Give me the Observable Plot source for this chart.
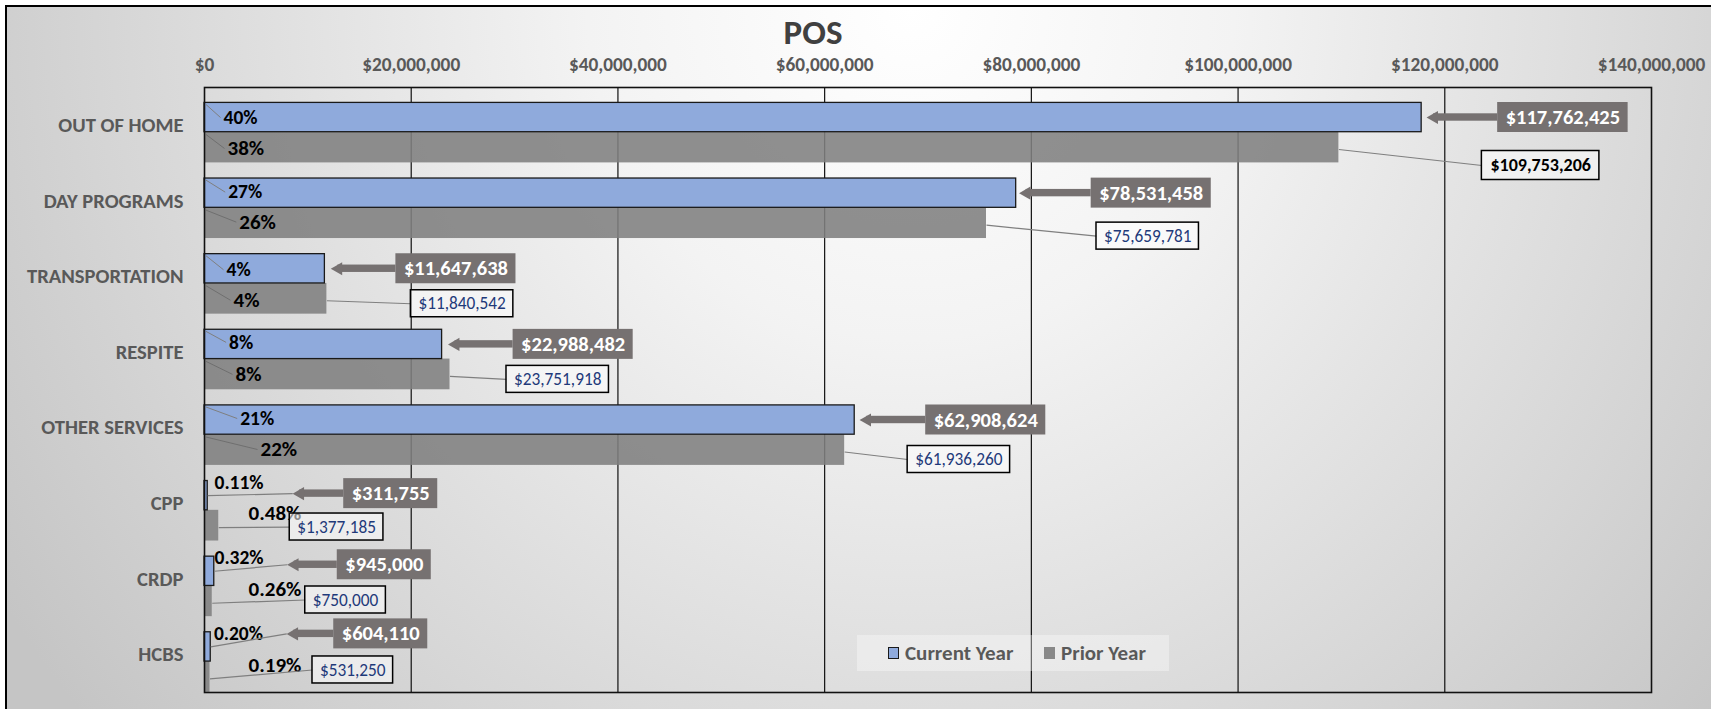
<!DOCTYPE html>
<html><head><meta charset="utf-8">
<script src="https://cdn.jsdelivr.net/npm/d3@7"></script>
<script src="https://cdn.jsdelivr.net/npm/@observablehq/plot@0.6"></script>
<style>
html,body{margin:0;padding:0;background:#fff;}
body{width:1711px;height:709px;overflow:hidden;position:relative;}
#bg{position:absolute;left:5px;top:5px;width:1740px;height:740px;border-top:2px solid #000;border-left:2px solid #000;box-sizing:border-box;
background: radial-gradient(ellipse 62% 150% at 52% 0%, #ffffff 0%, #f3f3f3 30%, #dcdcdc 65%, #c5c5c5 100%);}
#chart{position:absolute;left:0;top:0;}
#title{position:absolute;left:713px;width:200px;top:12px;text-align:center;font-weight:bold;color:#404040;line-height:40px;}
#legend{position:absolute;left:857px;top:635px;width:312px;height:36px;background:rgba(255,255,255,0.35);}
#legend .sw{position:absolute;top:12px;width:11px;height:12px;box-sizing:border-box;}
#legend .lb{position:absolute;top:0;line-height:36px;font-weight:bold;color:#595959;white-space:nowrap;}
</style></head>
<body>
<div id="bg"></div>
<div id="chart"></div>
<div id="title"></div>
<div id="legend"></div>
<script>
// ---------- data ----------
const categories = ["OUT OF HOME", "DAY PROGRAMS", "TRANSPORTATION", "RESPITE", "OTHER SERVICES", "CPP", "CRDP", "HCBS"];
const currentYear = [117762425, 78531458, 11647638, 22988482, 62908624, 311755, 945000, 604110];
const priorYear   = [109753206, 75659781, 11840542, 23751918, 61936260, 1377185, 750000, 531250];
const currentShare = ["40%", "27%", "4%", "8%", "21%", "0.11%", "0.32%", "0.20%"];
const priorShare   = ["38%", "26%", "4%", "8%", "22%", "0.48%", "0.26%", "0.19%"];
const xTicks = [0, 20000000, 40000000, 60000000, 80000000, 100000000, 120000000, 140000000];
const seriesNames = ["Current Year", "Prior Year"];
const chartTitle = "POS";

// ---------- label layout (pixel offsets, as placed in the original) ----------
const curTipDx  = [5, 3, 6, 6, 5, 85, 73, 76];          // arrow tip from bar end
const curBoxDx  = [76, 75, 71, 71, 71, 136, 123, 123];  // value box left from bar end
const curBoxCy  = [30, 30, 30, 30, 30, 28, 23.5, 17];   // box centre from band top
const priBoxDx  = [143, 110, 84, 56.5, 63, 71, 93, 102.5];
const priBoxCy  = [78, 73, 65, 65, 69.5, 61.4, 58.75, 53.1];
const curPctDx  = [19, 23.7, 22, 24.6, 35.7, 10, 10, 9.4];
const curPctCy  = [30, 29, 31, 28, 28.5, 17, 16.25, 16.6];
const priPctDx  = [23, 34.8, 29, 31, 56, 44, 44, 44];
const priPctCy  = [61, 59, 61.5, 60, 59.5, 48, 48, 48.6];
const priEmph   = [true, false, false, false, false, false, false, false];

// ---------- font ----------
const FF = `Carlito, Calibri, Lato, "Liberation Sans", sans-serif`;
const ctx = document.createElement("canvas").getContext("2d");
function textW(t, size, weight) { ctx.font = `${weight} ${size}px ${FF}`; return ctx.measureText(t).width; }

// ---------- geometry ----------
const W = 1711, H = 709, mL = 204, mR = 60, mT = 87, mB = 17;
const U = (H - mT - mB) / categories.length;
const xs = Plot.scale({x: {domain: [0, 140000000], range: [mL, W - mR]}});
const px = v => xs.apply(v), val = p => xs.invert(p);
const fmt = d3.format("$,.0f");

const rows = categories.map((cat, i) => ({i, cat, cur: currentYear[i], pri: priorYear[i], curPct: currentShare[i], priPct: priorShare[i]}));
const big = rows.filter(d => d.i < 5);

const curSize = 20.5, priSize = 17.3, priEmphSize = 18, pctCur = 19.5, pctPri = 21;
const cur = rows.map(d => {
  const e = px(d.cur), tip = e + curTipDx[d.i], bl = e + curBoxDx[d.i];
  const w = textW(fmt(d.cur), curSize, "bold") + 16;
  return {...d, tip, bl, br: bl + w, cy: curBoxCy[d.i]};
});
const pri = rows.map(d => {
  const e = px(d.pri), bl = e + priBoxDx[d.i];
  const w = priEmph[d.i] ? textW(fmt(d.pri), priEmphSize, "bold") + 17 : textW(fmt(d.pri), priSize, "normal") + 15;
  return {...d, bl, br: bl + w, cy: priBoxCy[d.i], h: priEmph[d.i] ? 29 : 27};
});

const grey = "#767171";
const chart = Plot.plot({
  width: W, height: H,
  marginLeft: mL, marginRight: mR, marginTop: mT, marginBottom: mB,
  style: {fontFamily: FF, background: "transparent", overflow: "visible"},
  x: {domain: [0, 140000000], range: [mL, W - mR]},
  y: {domain: [0, categories.length], range: [mT, H - mB]},
  marks: [
    Plot.ruleX(xTicks.slice(1, -1), {stroke: "#111", strokeWidth: 1.2}),
    Plot.rect(rows, {x1: 0, x2: "pri", y1: d => d.i + 44.7 / U, y2: d => d.i + 75.4 / U, fill: "#808080", fillOpacity: 0.88}),
    Plot.rect(rows, {x1: 0, x2: "cur", y1: d => d.i + 15.4 / U, y2: d => d.i + 44.7 / U, fill: "#8FAADC", stroke: "#1a1a1a", strokeWidth: 1.3}),
    Plot.frame({stroke: "#111", strokeWidth: 1.6}),
    Plot.axisX({anchor: "top", ticks: xTicks, tickFormat: fmt, tickSize: 0, tickPadding: 17, fontSize: 19.3, fontWeight: "bold", color: "#595959"}),
    Plot.axisY({ticks: categories.map((c, i) => i + 0.5), tickFormat: v => categories[Math.floor(v)], tickSize: 0, tickPadding: 21, fontSize: 20.6, fontWeight: "bold", color: "#595959"}),
    // percentage connectors and labels
    Plot.link(big, {x1: () => val(mL + 1.5), y1: d => d.i + 17 / U, x2: d => val(mL + curPctDx[d.i] - 3), y2: d => d.i + curPctCy[d.i] / U, stroke: "#7f7f7f", strokeWidth: 1}),
    Plot.link(big, {x1: () => val(mL + 1.5), y1: d => d.i + 47 / U, x2: d => val(mL + priPctDx[d.i] - 3), y2: d => d.i + priPctCy[d.i] / U, stroke: "#6f6f6f", strokeWidth: 1}),
    Plot.text(rows, {x: d => val(mL + curPctDx[d.i]), y: d => d.i + curPctCy[d.i] / U, text: "curPct", textAnchor: "start", fontWeight: "bold", fontSize: pctCur, fill: "#000"}),
    Plot.text(rows, {x: d => val(mL + priPctDx[d.i]), y: d => d.i + priPctCy[d.i] / U, text: "priPct", textAnchor: "start", fontWeight: "bold", fontSize: pctPri, fill: "#000"}),
    // prior-year callouts
    Plot.link(pri, {x1: "pri", y1: d => d.i + 62 / U, x2: d => val(d.bl), y2: d => d.i + d.cy / U, stroke: "#7f7f7f", strokeWidth: 1.2}),
    Plot.rect(pri, {x1: d => val(d.bl), x2: d => val(d.br), y1: d => d.i + (d.cy - d.h / 2) / U, y2: d => d.i + (d.cy + d.h / 2) / U, fill: "#ffffff", fillOpacity: 0.55, stroke: "#000", strokeWidth: 1.5}),
    Plot.text(pri.filter(d => priEmph[d.i]), {x: d => val((d.bl + d.br) / 2), y: d => d.i + d.cy / U, text: d => fmt(d.pri), fontSize: priEmphSize, fontWeight: "bold", fill: "#000"}),
    Plot.text(pri.filter(d => !priEmph[d.i]), {x: d => val((d.bl + d.br) / 2), y: d => d.i + d.cy / U, text: d => fmt(d.pri), fontSize: priSize, fill: "#1F3A7A"}),
    // current-year callouts
    Plot.link(cur.filter(d => d.i >= 5), {x1: "cur", y1: d => d.i + 30 / U, x2: d => val(d.tip), y2: d => d.i + d.cy / U, stroke: "#7f7f7f", strokeWidth: 1.2}),
    Plot.rect(cur, {x1: d => val(d.tip + 7), x2: d => val(d.bl), y1: d => d.i + (d.cy - 3.7) / U, y2: d => d.i + (d.cy + 3.7) / U, fill: grey}),
    Plot.dot(cur, {x: d => val(d.tip + 7.5), y: d => d.i + d.cy / U, symbol: "triangle", r: 4.9, rotate: -90, fill: grey, stroke: "none"}),
    Plot.rect(cur, {x1: d => val(d.bl), x2: d => val(d.br), y1: d => d.i + (d.cy - 15) / U, y2: d => d.i + (d.cy + 15) / U, fill: grey}),
    Plot.text(cur, {x: d => val((d.bl + d.br) / 2), y: d => d.i + d.cy / U, text: d => fmt(d.cur), fontSize: curSize, fontWeight: "bold", fill: "#fff"})
  ]
});
document.getElementById("chart").append(chart);

// title + legend
const title = document.getElementById("title");
title.textContent = chartTitle; title.style.fontFamily = FF; title.style.fontSize = "35px";
const leg = document.getElementById("legend");
const legFill = ["#8FAADC", "#888888"], legStroke = ["#1a1a1a", "none"];
const legSw = [31, 187], legTx = [48, 204];
seriesNames.forEach((n, j) => {
  const sw = document.createElement("div"); sw.className = "sw";
  sw.style.left = legSw[j] + "px"; sw.style.background = legFill[j];
  sw.style.border = legStroke[j] === "none" ? "none" : `1.5px solid ${legStroke[j]}`;
  const lb = document.createElement("div"); lb.className = "lb";
  lb.style.left = legTx[j] + "px"; lb.textContent = n; lb.style.fontFamily = FF; lb.style.fontSize = "21px";
  leg.append(sw, lb);
});
</script>
</body></html>
